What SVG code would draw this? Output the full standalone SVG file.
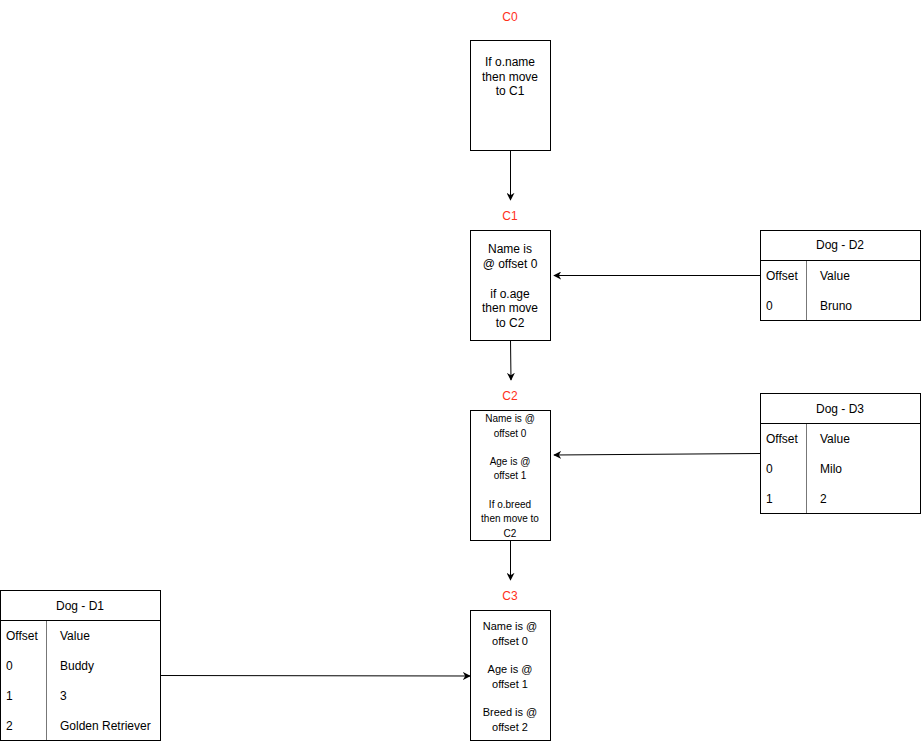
<svg xmlns="http://www.w3.org/2000/svg" width="922" height="742" viewBox="0 0 922 742">
<defs>
<style>
text{font-family:"Liberation Sans",Arial,sans-serif;fill:#000}
.box{fill:#fff;stroke:#000;stroke-width:1}
.lbl{fill:#ff2f1a;font-size:12px;text-anchor:middle}
.t12{font-size:12px;text-anchor:middle}
.t11{font-size:11px;text-anchor:middle}
.t10{font-size:10px;text-anchor:middle}
.cell{font-size:12px}
.edge{fill:none;stroke:#000;stroke-width:1}
.div{stroke:#000;stroke-width:1}
.coldiv{stroke:#777;stroke-width:1}
</style>
<marker id="arr" viewBox="0 0 10 10" refX="9" refY="5" markerWidth="8" markerHeight="8" markerUnits="userSpaceOnUse" orient="auto">
<path d="M0,0 L10,5 L0,10 L3,5 Z" fill="#000"/>
</marker>
</defs>
<rect width="922" height="742" fill="#fff"/>

<g id="edges">
<path class="edge" d="M510.5,150 L510.5,200" marker-end="url(#arr)"/>
<path class="edge" d="M510.5,340 L511,380" marker-end="url(#arr)"/>
<path class="edge" d="M510.5,540 L510.5,580" marker-end="url(#arr)"/>
<path class="edge" d="M760,275.5 L554,275.5" marker-end="url(#arr)"/>
<path class="edge" d="M760,453.5 L554,455" marker-end="url(#arr)"/>
<path class="edge" d="M160,675.5 L470,676" marker-end="url(#arr)"/>
</g>

<g id="C0">
<text class="lbl" x="510" y="21">C0</text>
<rect class="box" x="470.5" y="40.5" width="80" height="110"/>
<text class="t12" x="510" y="66">If o.name</text>
<text class="t12" x="510" y="81">then move</text>
<text class="t12" x="510" y="95">to C1</text>
</g>

<g id="C1">
<text class="lbl" x="510" y="220">C1</text>
<rect class="box" x="470.5" y="230.5" width="80" height="110"/>
<text class="t12" x="510" y="253">Name is</text>
<text class="t12" x="510" y="268">@ offset 0</text>
<text class="t12" x="510" y="298">if o.age</text>
<text class="t12" x="510" y="312">then move</text>
<text class="t12" x="510" y="327">to C2</text>
</g>

<g id="C2">
<text class="lbl" x="510" y="400">C2</text>
<rect class="box" x="470.5" y="410.5" width="80" height="130"/>
<text class="t10" x="510" y="422">Name is @</text>
<text class="t10" x="510" y="437">offset 0</text>
<text class="t10" x="510" y="465">Age is @</text>
<text class="t10" x="510" y="479">offset 1</text>
<text class="t10" x="510" y="508">If o.breed</text>
<text class="t10" x="510" y="522">then move to</text>
<text class="t10" x="510" y="537">C2</text>
</g>

<g id="C3">
<text class="lbl" x="510" y="600">C3</text>
<rect class="box" x="470.5" y="610.5" width="80" height="130"/>
<text class="t11" x="510" y="630">Name is @</text>
<text class="t11" x="510" y="645">offset 0</text>
<text class="t11" x="510" y="673">Age is @</text>
<text class="t11" x="510" y="688">offset 1</text>
<text class="t11" x="510" y="716">Breed is @</text>
<text class="t11" x="510" y="731">offset 2</text>
</g>

<g id="D2">
<rect class="box" x="760.5" y="230.5" width="160" height="90"/>
<line class="div" x1="760.5" y1="260.5" x2="920.5" y2="260.5"/>
<line class="coldiv" x1="806.5" y1="261" x2="806.5" y2="320"/>
<text class="t12" x="840" y="249">Dog - D2</text>
<text class="cell" x="766" y="280">Offset</text>
<text class="cell" x="820" y="280">Value</text>
<text class="cell" x="766" y="310">0</text>
<text class="cell" x="820" y="310">Bruno</text>
</g>

<g id="D3">
<rect class="box" x="760.5" y="393.5" width="160" height="120"/>
<line class="div" x1="760.5" y1="423.5" x2="920.5" y2="423.5"/>
<line class="coldiv" x1="806.5" y1="424" x2="806.5" y2="513"/>
<text class="t12" x="840" y="413">Dog - D3</text>
<text class="cell" x="766" y="443">Offset</text>
<text class="cell" x="820" y="443">Value</text>
<text class="cell" x="766" y="473">0</text>
<text class="cell" x="820" y="473">Milo</text>
<text class="cell" x="766" y="503">1</text>
<text class="cell" x="820" y="503">2</text>
</g>

<g id="D1">
<rect class="box" x="0.5" y="590.5" width="160" height="150"/>
<line class="div" x1="0.5" y1="620.5" x2="160.5" y2="620.5"/>
<line class="coldiv" x1="46.5" y1="621" x2="46.5" y2="740"/>
<text class="t12" x="80" y="610">Dog - D1</text>
<text class="cell" x="6" y="640">Offset</text>
<text class="cell" x="60" y="640">Value</text>
<text class="cell" x="6" y="670">0</text>
<text class="cell" x="60" y="670">Buddy</text>
<text class="cell" x="6" y="700">1</text>
<text class="cell" x="60" y="700">3</text>
<text class="cell" x="6" y="730">2</text>
<text class="cell" x="60" y="730">Golden Retriever</text>
</g>
</svg>
